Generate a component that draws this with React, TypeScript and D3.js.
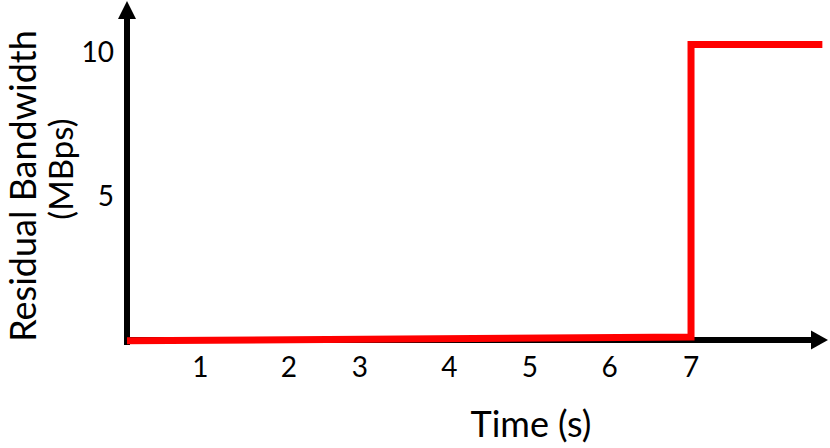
import React, { useEffect, useRef } from 'react';
import * as d3 from 'd3';

// red step line (time in s, residual bandwidth in MBps)
const times = [0, 7, 7, 8.63];
const bandwidth = [-0.03, 0.1, 10.26, 10.26];

// x tick labels are placed by hand in the original figure
const xTickLabels = ['1', '2', '3', '4', '5', '6', '7'];
const xTickTimes = [0.91, 2.01, 2.89, 4.0, 5.0, 5.99, 7.0];

const yTickValues = [5, 10];

const xTitle = 'Time (s)';
const yTitleLines = ['Residual Bandwidth', '(MBps)'];

const WIDTH = 830;
const HEIGHT = 448;
const FONT = 'Lato, "Open Sans", sans-serif';

function StepChart() {
  const svgRef = useRef<SVGSVGElement>(null);

  useEffect(() => {
    const svg = d3.select(svgRef.current);
    svg.selectAll('*').remove();

    const x = d3.scaleLinear().domain([0, 8.7]).range([127, 828]);
    const y = d3.scaleLinear().domain([0, 10]).range([340, 52]);

    const x0 = x(0);
    const y0 = y(0);
    const xEnd = x(8.7);
    const yTop = y(11.77);

    // axes
    const axes = svg.append('g').attr('fill', '#000').attr('stroke', '#000');
    axes.append('line')
      .attr('x1', x0).attr('x2', x0)
      .attr('y1', y0 + 5).attr('y2', yTop + 16)
      .attr('stroke-width', 6);
    axes.append('path')
      .attr('stroke', 'none')
      .attr('d', `M${x0},${yTop} L${x0 - 9},${yTop + 18} L${x0 + 9},${yTop + 18} Z`);

    axes.append('line')
      .attr('x1', x0 - 3).attr('x2', xEnd - 15)
      .attr('y1', y0).attr('y2', y0)
      .attr('stroke-width', 6);
    axes.append('path')
      .attr('stroke', 'none')
      .attr('d', `M${xEnd},${y0} L${xEnd - 17},${y0 - 9.5} L${xEnd - 17},${y0 + 9.5} Z`);

    // data line
    const pts = times.map((t, i) => [t, bandwidth[i]] as [number, number]);
    const line = d3.line<[number, number]>()
      .x(d => x(d[0]))
      .y(d => y(d[1]));

    svg.append('path')
      .datum(pts)
      .attr('fill', 'none')
      .attr('stroke', '#ff0000')
      .attr('stroke-width', 7)
      .attr('stroke-linejoin', 'miter')
      .attr('d', line);

    // tick labels
    svg.append('g')
      .selectAll('text')
      .data(xTickLabels)
      .join('text')
      .attr('x', (d, i) => x(xTickTimes[i]))
      .attr('y', 377)
      .attr('text-anchor', 'middle')
      .attr('font-family', FONT)
      .attr('font-size', 28)
      .text(d => d);

    svg.append('g')
      .selectAll('text')
      .data(yTickValues)
      .join('text')
      .attr('x', 114)
      .attr('y', d => y(d) + 10)
      .attr('text-anchor', 'end')
      .attr('font-family', FONT)
      .attr('font-size', 28)
      .text(d => String(d));

    // titles
    svg.append('text')
      .attr('x', 531)
      .attr('y', 437)
      .attr('text-anchor', 'middle')
      .attr('font-family', FONT)
      .attr('font-size', 36)
      .text(xTitle);

    svg.append('text')
      .attr('transform', 'translate(36,186) rotate(-90)')
      .attr('text-anchor', 'middle')
      .attr('font-family', FONT)
      .attr('font-size', 36)
      .text(yTitleLines[0]);

    svg.append('text')
      .attr('transform', 'translate(73,169) rotate(-90)')
      .attr('text-anchor', 'middle')
      .attr('font-family', FONT)
      .attr('font-size', 33)
      .text(yTitleLines[1]);
  }, []);

  return <svg ref={svgRef} width={WIDTH} height={HEIGHT} style={{ display: 'block' }} />;
}

export default function App() {
  useEffect(() => {
    document.body.style.margin = '0';
  }, []);
  return (
    <div style={{ width: WIDTH, height: HEIGHT, background: '#fff' }}>
      <StepChart />
    </div>
  );
}
